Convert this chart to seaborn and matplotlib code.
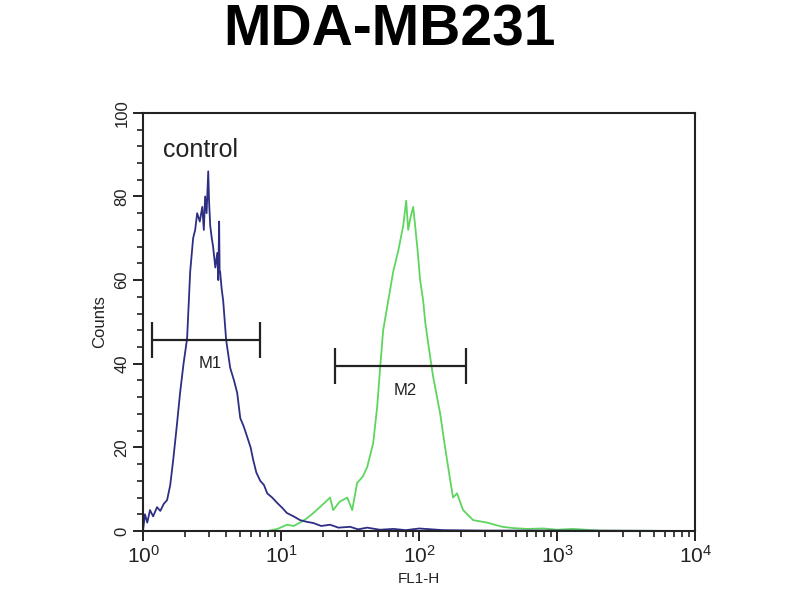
import matplotlib
matplotlib.use("Agg")
import matplotlib.pyplot as plt
from matplotlib.ticker import MultipleLocator, LogLocator, NullFormatter, FixedLocator
import seaborn as sns
import pandas as pd

# ---------------- data ----------------
title = "MDA-MB231"
xlabel = "FL1-H"
ylabel = "Counts"
control_label = "control"

blue_x = [1.0, 1.03, 1.07, 1.12, 1.18, 1.26, 1.33, 1.41, 1.49, 1.57, 1.65, 1.75,
          1.85, 1.96, 2.08, 2.19, 2.30, 2.38, 2.46, 2.57, 2.68, 2.75, 2.81, 2.88,
          2.96, 3.00, 3.06, 3.14, 3.21, 3.33, 3.44, 3.50, 3.55, 3.58, 3.61, 3.70,
          3.80, 3.99, 4.27, 4.55, 4.80, 5.05, 5.35, 5.67, 6.0, 6.27, 6.6, 7.05,
          7.5, 7.92, 8.6, 9.36, 10.2, 11.0, 12.3, 13.7, 15.3, 17.1, 19.5, 22.6,
          26, 31.6, 36, 42, 52, 65, 80, 100, 150, 300, 1000, 10000]
blue_y = [0.5, 4, 2, 5, 3.5, 5.7, 4.8, 6.5, 7.4, 11, 17, 25,
          33, 40, 46, 62, 70, 72, 76, 74, 77.5, 72, 80, 76,
          86, 79, 73, 70, 68, 63, 66.5, 60, 74, 62, 62, 58,
          55, 45.7, 39, 36, 33, 27, 25, 22.5, 20, 17, 14, 12,
          11, 9, 8, 6.7, 5.5, 4.3, 3.5, 2.6, 2.2, 1.9, 1.2, 1.5,
          0.8, 1.0, 0.4, 0.8, 0.3, 0.5, 0.2, 0.6, 0.2, 0.1, 0.1, 0]

green_x = [1, 8.0, 9.4, 11.0, 12.3, 13.7, 15.3, 17.1, 19.5, 22.6, 23.8, 26.5,
           30.1, 32.7, 35.5, 39, 42.0, 46.4, 49.6, 52.1, 54.8, 59.6, 64.8, 70.5,
           76.6, 80.5, 83.2, 86.5, 90.5, 96.8, 101.6, 106.9, 110.5, 116, 126, 142,
           154, 168, 176, 188, 208, 246, 311, 400, 480, 600, 800, 1000, 1300,
           2000, 10000]
green_y = [0, 0, 0.5, 1.5, 1.2, 2, 3.0, 4.3, 6.0, 8, 5, 7,
           8, 5, 11.5, 13, 15.3, 21, 29.7, 39, 48, 55, 62, 67,
           73, 79, 72, 75, 77.5, 68, 60, 55, 50, 45, 37, 28,
           20, 12, 8, 9, 5, 2.6, 2, 1.0, 0.7, 0.5, 0.6, 0.3, 0.5,
           0.1, 0]

gate_names = ["M1", "M2"]
gate_lo = [1.16, 24.6]
gate_hi = [7.0, 219.0]
gate_y = [45.7, 39.5]
gate_label_x = [3.06, 79.0]
gate_label_y = [40.0, 33.5]

x_ticks = [1, 10, 100, 1000, 10000]
x_tick_labels = ["$10^0$", "$10^1$", "$10^2$", "$10^3$", "$10^4$"]
y_ticks = [0, 20, 40, 60, 80, 100]

# ---------------- style ----------------
sns.set_theme(style="ticks")
plt.rcParams["font.family"] = ["Liberation Sans", "DejaVu Sans"]
plt.rcParams["mathtext.fontset"] = "custom"
plt.rcParams["mathtext.rm"] = "Liberation Sans"
plt.rcParams["mathtext.it"] = "Liberation Sans"

fig = plt.figure(figsize=(8, 6), dpi=100)
ax = fig.add_axes([0.179, 0.115, 0.690, 0.697])

df_blue = pd.DataFrame({"x": blue_x, "y": blue_y})
df_green = pd.DataFrame({"x": green_x, "y": green_y})

sns.lineplot(data=df_green, x="x", y="y", ax=ax, color="#5ed65e",
             linewidth=1.3, estimator=None, sort=False)
sns.lineplot(data=df_blue, x="x", y="y", ax=ax, color="#2e2e84",
             linewidth=1.3, estimator=None, sort=False)

ax.set_xscale("log")
ax.set_xlim(1, 10000)
ax.set_ylim(0, 100)

# gates
for name, lo, hi, gy, lx, ly in zip(gate_names, gate_lo, gate_hi, gate_y,
                                     gate_label_x, gate_label_y):
    ax.hlines(gy, lo, hi, color="#222222", linewidth=1.6)
    ax.vlines([lo, hi], gy - 4.3, gy + 4.3, color="#222222", linewidth=1.6)
    ax.text(lx, ly, name, ha="center", va="center", fontsize=12, color="#222222")

ax.text(1.40, 91, control_label, ha="left", va="center", fontsize=18,
        color="#222222")

# ticks
ax.xaxis.set_major_locator(FixedLocator(x_ticks))
ax.set_xticklabels(x_tick_labels, fontsize=15)
ax.xaxis.set_minor_locator(LogLocator(base=10, subs=range(2, 10)))
ax.xaxis.set_minor_formatter(NullFormatter())
ax.yaxis.set_major_locator(FixedLocator(y_ticks))
ax.set_yticklabels([str(v) for v in y_ticks], rotation=90, va="center",
                   fontsize=12)
ax.yaxis.set_minor_locator(MultipleLocator(4))

ax.tick_params(axis="both", which="major", direction="out", length=7,
               width=1.4, color="#222222", labelcolor="#222222", pad=3)
ax.tick_params(axis="both", which="minor", direction="out", length=4,
               width=1.2, color="#222222")
ax.tick_params(top=False, right=False, which="both")

for s in ax.spines.values():
    s.set_color("#222222")
    s.set_linewidth(1.5)
    s.set_visible(True)

ax.set_xlabel(xlabel, fontsize=11, labelpad=4, color="#222222")
ax.set_ylabel(ylabel, fontsize=12, labelpad=5, color="#222222")

fig.text(0.487, 0.950, title, ha="center", va="center", fontsize=41,
         fontweight="bold", color="black")

fig.savefig("out.png", dpi=100)
